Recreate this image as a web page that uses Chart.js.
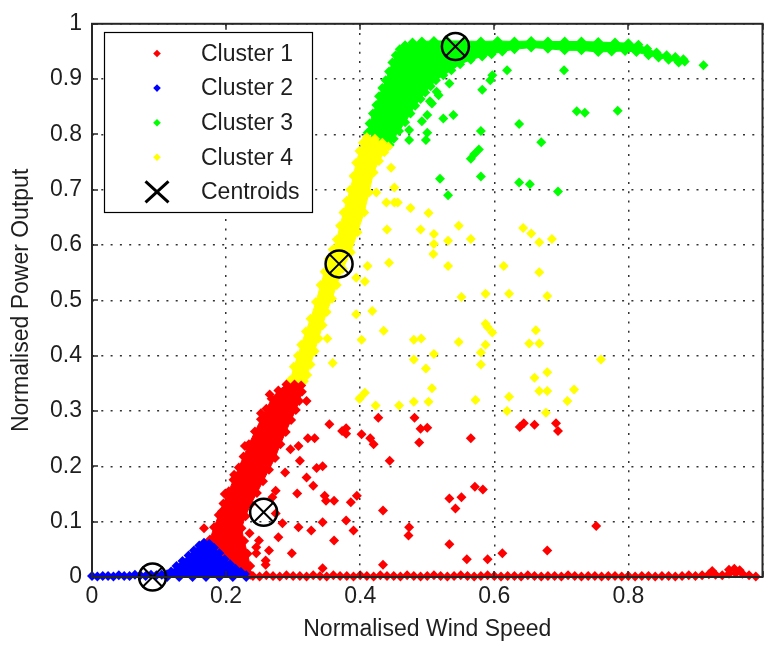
<!DOCTYPE html>
<html>
<head>
<meta charset="utf-8">
<title>Clusters</title>
<script src="https://cdn.jsdelivr.net/npm/chart.js@4.4.1/dist/chart.umd.min.js"></script>
<style>
  html, body { margin: 0; padding: 0; background: #fff; overflow: hidden; }
  canvas { display: block; }
</style>
</head>
<body>
<canvas id="chart" width="779" height="646"></canvas>
<script>
const legendLabels = ['Cluster 1', 'Cluster 2', 'Cluster 3', 'Cluster 4', 'Centroids'];
const clusterColors = ['#ff0000', '#0000ff', '#00ff00', '#ffff00'];

const xTicks = [0, 0.2, 0.4, 0.6, 0.8, 1];
const yTicks = [0, 0.1, 0.2, 0.3, 0.4, 0.5, 0.6, 0.7, 0.8, 0.9, 1];

// dense parts of each cluster, read as outlines [x, y]
const cluster2Shape = [
    [0.112, 0.000], [0.118, 0.010], [0.126, 0.020], [0.135, 0.029], [0.144, 0.039], [0.152, 0.048],
    [0.160, 0.057], [0.167, 0.062], [0.175, 0.060], [0.182, 0.053], [0.190, 0.043], [0.198, 0.032],
    [0.206, 0.023], [0.214, 0.015], [0.222, 0.009], [0.230, 0.003], [0.230, 0.000], [0.210, 0.000],
    [0.190, 0.000], [0.170, 0.000], [0.150, 0.000], [0.130, 0.000]
];
const cluster2Line = [
    [0.000, 0.002], [0.008, 0.001], [0.016, 0.002], [0.024, 0.002], [0.032, 0.001], [0.040, 0.003],
    [0.048, 0.002], [0.056, 0.002], [0.064, 0.004], [0.072, 0.003], [0.080, 0.002], [0.088, 0.004],
    [0.096, 0.003], [0.104, 0.004], [0.112, 0.005]
];

const cluster1Shape = [
    [0.176, 0.068], [0.182, 0.090], [0.189, 0.112], [0.196, 0.133], [0.204, 0.155], [0.211, 0.176],
    [0.219, 0.198], [0.226, 0.218], [0.234, 0.240], [0.243, 0.263], [0.252, 0.285], [0.260, 0.304],
    [0.268, 0.322], [0.278, 0.337], [0.290, 0.348], [0.302, 0.348], [0.312, 0.346], [0.313, 0.335],
    [0.309, 0.318], [0.304, 0.302], [0.297, 0.284], [0.289, 0.262], [0.281, 0.240], [0.273, 0.215],
    [0.264, 0.194], [0.255, 0.173], [0.246, 0.152], [0.237, 0.132], [0.229, 0.110], [0.223, 0.088],
    [0.227, 0.065], [0.232, 0.042], [0.236, 0.020], [0.236, 0.004], [0.231, 0.006], [0.223, 0.012],
    [0.215, 0.019], [0.207, 0.027], [0.199, 0.037], [0.191, 0.048], [0.183, 0.058]
];
const cluster1Points = [
    [0.167, 0.088], [0.194, 0.119], [0.198, 0.150], [0.212, 0.185], [0.228, 0.237], [0.252, 0.296],
    [0.265, 0.330], [0.235, 0.079], [0.245, 0.043], [0.259, 0.030], [0.249, 0.066], [0.264, 0.048],
    [0.259, 0.022], [0.245, 0.054], [0.269, 0.144], [0.274, 0.115], [0.278, 0.072], [0.284, 0.097],
    [0.298, 0.043], [0.306, 0.151], [0.308, 0.090], [0.310, 0.210], [0.320, 0.180], [0.330, 0.165],
    [0.327, 0.084], [0.344, 0.099], [0.344, 0.016], [0.335, 0.197], [0.344, 0.200], [0.322, 0.251],
    [0.332, 0.251], [0.296, 0.231], [0.308, 0.237], [0.320, 0.318], [0.354, 0.276], [0.361, 0.066],
    [0.361, 0.138], [0.379, 0.269], [0.379, 0.259], [0.379, 0.102], [0.390, 0.084], [0.386, 0.135],
    [0.395, 0.147], [0.402, 0.258], [0.415, 0.251], [0.420, 0.240], [0.427, 0.288], [0.444, 0.210],
    [0.434, 0.120], [0.434, 0.022], [0.373, 0.264], [0.288, 0.189], [0.274, 0.156], [0.347, 0.147],
    [0.349, 0.138], [0.481, 0.288], [0.490, 0.268], [0.500, 0.270], [0.488, 0.243], [0.565, 0.251],
    [0.473, 0.090], [0.472, 0.075], [0.533, 0.142], [0.551, 0.144], [0.542, 0.124], [0.571, 0.163],
    [0.583, 0.158], [0.533, 0.059], [0.559, 0.032], [0.590, 0.032], [0.612, 0.043], [0.638, 0.271],
    [0.644, 0.278], [0.660, 0.275], [0.692, 0.278], [0.695, 0.264], [0.752, 0.092], [0.679, 0.048]
];
const cluster1Base = [
    [0.24, 0.002], [0.25, 0.001], [0.26, 0.003], [0.27, 0.002], [0.28, 0.001], [0.29, 0.003],
    [0.30, 0.002], [0.31, 0.002], [0.32, 0.001], [0.33, 0.003], [0.34, 0.002], [0.35, 0.001],
    [0.36, 0.003], [0.37, 0.002], [0.38, 0.002], [0.39, 0.001], [0.40, 0.003], [0.41, 0.002],
    [0.42, 0.001], [0.43, 0.003], [0.44, 0.002], [0.45, 0.002], [0.46, 0.001], [0.47, 0.003],
    [0.48, 0.002], [0.49, 0.001], [0.50, 0.002], [0.51, 0.003], [0.52, 0.002], [0.53, 0.001],
    [0.54, 0.002], [0.55, 0.003], [0.56, 0.002], [0.57, 0.001], [0.58, 0.002], [0.59, 0.003],
    [0.60, 0.002], [0.61, 0.001], [0.62, 0.002], [0.63, 0.002], [0.64, 0.001], [0.65, 0.003],
    [0.66, 0.002], [0.67, 0.001], [0.68, 0.002], [0.69, 0.002], [0.70, 0.001], [0.71, 0.003],
    [0.72, 0.002], [0.73, 0.001], [0.74, 0.002], [0.75, 0.002], [0.76, 0.001], [0.77, 0.002],
    [0.78, 0.002], [0.79, 0.001], [0.80, 0.002], [0.81, 0.001], [0.82, 0.002], [0.83, 0.002],
    [0.84, 0.001], [0.85, 0.002], [0.86, 0.002], [0.87, 0.001], [0.88, 0.002], [0.89, 0.003],
    [0.90, 0.002], [0.91, 0.003], [0.92, 0.005], [0.93, 0.004], [0.94, 0.003], [0.95, 0.006],
    [0.96, 0.007], [0.97, 0.006], [0.98, 0.003], [0.99, 0.001], [0.925, 0.011], [0.950, 0.013],
    [0.958, 0.015], [0.966, 0.012]
];

const cluster4Shape = [
    [0.296, 0.356], [0.301, 0.380], [0.307, 0.400], [0.312, 0.420], [0.319, 0.444], [0.326, 0.467],
    [0.334, 0.497], [0.341, 0.528], [0.347, 0.552], [0.353, 0.575], [0.359, 0.592], [0.365, 0.610],
    [0.370, 0.635], [0.375, 0.659], [0.380, 0.680], [0.385, 0.700], [0.390, 0.725], [0.394, 0.749],
    [0.399, 0.770], [0.404, 0.785], [0.410, 0.795], [0.422, 0.792], [0.433, 0.785], [0.442, 0.778],
    [0.436, 0.768], [0.428, 0.752], [0.420, 0.731], [0.413, 0.695], [0.406, 0.659], [0.396, 0.623],
    [0.386, 0.587], [0.374, 0.557], [0.365, 0.528], [0.358, 0.503], [0.350, 0.479], [0.344, 0.455],
    [0.338, 0.431], [0.332, 0.408], [0.326, 0.384], [0.321, 0.365], [0.316, 0.354], [0.305, 0.353]
];
const cluster4Points = [
    [0.446, 0.740], [0.451, 0.704], [0.424, 0.695], [0.439, 0.677], [0.451, 0.677], [0.456, 0.677],
    [0.475, 0.667], [0.502, 0.658], [0.440, 0.628], [0.490, 0.628], [0.510, 0.620], [0.531, 0.608],
    [0.510, 0.602], [0.443, 0.568], [0.411, 0.562], [0.394, 0.541], [0.407, 0.534], [0.531, 0.562],
    [0.418, 0.481], [0.394, 0.475], [0.435, 0.445], [0.402, 0.429], [0.351, 0.431], [0.359, 0.387],
    [0.480, 0.429], [0.491, 0.431], [0.480, 0.393], [0.498, 0.377], [0.510, 0.403], [0.507, 0.341],
    [0.400, 0.324], [0.547, 0.635], [0.565, 0.611], [0.643, 0.631], [0.655, 0.621], [0.667, 0.605],
    [0.686, 0.611], [0.509, 0.584], [0.614, 0.562], [0.667, 0.551], [0.587, 0.512], [0.551, 0.506],
    [0.622, 0.512], [0.679, 0.508], [0.587, 0.458], [0.590, 0.452], [0.597, 0.442], [0.547, 0.425],
    [0.587, 0.420], [0.662, 0.446], [0.652, 0.422], [0.667, 0.422], [0.580, 0.406], [0.580, 0.384],
    [0.660, 0.360], [0.679, 0.370], [0.667, 0.336], [0.679, 0.336], [0.399, 0.322], [0.407, 0.333],
    [0.423, 0.310], [0.458, 0.310], [0.480, 0.317], [0.502, 0.317], [0.572, 0.320], [0.622, 0.326],
    [0.619, 0.300], [0.677, 0.297], [0.709, 0.318], [0.759, 0.393], [0.719, 0.339]
];

const cluster3Shape = [
    [0.411, 0.803], [0.414, 0.820], [0.419, 0.838], [0.424, 0.853], [0.428, 0.869], [0.433, 0.884],
    [0.438, 0.898], [0.443, 0.914], [0.448, 0.930], [0.453, 0.943], [0.459, 0.954], [0.467, 0.961],
    [0.478, 0.966], [0.492, 0.968], [0.510, 0.969], [0.530, 0.969], [0.555, 0.969], [0.580, 0.968],
    [0.605, 0.969], [0.630, 0.968], [0.655, 0.969], [0.680, 0.968], [0.705, 0.968], [0.730, 0.968],
    [0.755, 0.967], [0.780, 0.966], [0.800, 0.965], [0.815, 0.962], [0.828, 0.955], [0.842, 0.948],
    [0.857, 0.943], [0.870, 0.940], [0.882, 0.936], [0.884, 0.932], [0.875, 0.930], [0.860, 0.935],
    [0.845, 0.939], [0.830, 0.943], [0.812, 0.949], [0.795, 0.951], [0.775, 0.950], [0.755, 0.949],
    [0.730, 0.952], [0.705, 0.952], [0.680, 0.955], [0.655, 0.957], [0.630, 0.954], [0.612, 0.950],
    [0.596, 0.945], [0.582, 0.941], [0.565, 0.935], [0.549, 0.927], [0.536, 0.916], [0.524, 0.907],
    [0.513, 0.898], [0.505, 0.887], [0.497, 0.876], [0.490, 0.864], [0.482, 0.852], [0.475, 0.838],
    [0.467, 0.822], [0.458, 0.806], [0.450, 0.792], [0.444, 0.781], [0.433, 0.788], [0.422, 0.795]
];
const cluster3Points = [
    [0.912, 0.925], [0.704, 0.916], [0.619, 0.916], [0.597, 0.907], [0.594, 0.898], [0.582, 0.881],
    [0.533, 0.892], [0.514, 0.877], [0.517, 0.871], [0.504, 0.860], [0.507, 0.856], [0.500, 0.835],
    [0.539, 0.835], [0.524, 0.829], [0.492, 0.824], [0.500, 0.803], [0.498, 0.790], [0.473, 0.808],
    [0.473, 0.790], [0.580, 0.806], [0.577, 0.773], [0.570, 0.764], [0.565, 0.756], [0.519, 0.720],
    [0.531, 0.690], [0.580, 0.724], [0.637, 0.819], [0.670, 0.786], [0.637, 0.713], [0.653, 0.710],
    [0.695, 0.697], [0.723, 0.842], [0.735, 0.839], [0.784, 0.843]
];

const centroidX = [0.0903, 0.256, 0.3685, 0.542];
const centroidY = [0.0, 0.117, 0.566, 0.959];

const pts = arr => arr.map(([x, y]) => ({x, y}));
const centroids = centroidX.map((x, i) => ({x, y: centroidY[i]}));

function cloud(data, color, order) {
    return {
        data: pts(data),
        backgroundColor: color,
        borderColor: color,
        pointStyle: 'rectRot',
        pointRadius: 5,
        pointBorderWidth: 0,
        showLine: false,
        clip: false,
        order: order,
    };
}

function shape(data, color, order) {
    return {
        data: pts(data),
        backgroundColor: color,
        borderColor: color,
        borderWidth: 1,
        pointStyle: 'rectRot',
        pointRadius: 5,
        pointBorderWidth: 0,
        pointBackgroundColor: color,
        showLine: true,
        fill: 'shape',
        tension: 0,
        clip: false,
        order: order,
    };
}

const fontFamily = "'Liberation Sans', Arial, sans-serif";
const textColor = '#1e1e1e';

// box, inward tick marks, legend
const matlabFrame = {
    id: 'matlabFrame',
    afterDatasetsDraw(chart) {
        const {ctx, chartArea: a, scales: {x, y}} = chart;
        ctx.save();
        ctx.strokeStyle = '#262626';
        ctx.lineWidth = 1.5;
        ctx.beginPath();
        xTicks.forEach(v => {
            const px = Math.round(x.getPixelForValue(v));
            ctx.moveTo(px, a.bottom); ctx.lineTo(px, a.bottom - 6);
            ctx.moveTo(px, a.top); ctx.lineTo(px, a.top + 6);
        });
        yTicks.forEach(v => {
            const py = Math.round(y.getPixelForValue(v));
            ctx.moveTo(a.left, py); ctx.lineTo(a.left + 6, py);
        });
        ctx.stroke();
        ctx.lineWidth = 2;
        ctx.strokeRect(a.left, a.top, a.right - a.left, a.bottom - a.top);
        ctx.restore();
    },
    afterDraw(chart) {
        const ctx = chart.ctx;
        ctx.save();
        ctx.fillStyle = '#fff';
        ctx.fillRect(104.5, 32.5, 208, 180);
        ctx.strokeStyle = '#000';
        ctx.lineWidth = 1.2;
        ctx.strokeRect(104.5, 32.5, 208, 180);
        ctx.font = '23px ' + fontFamily;
        ctx.textBaseline = 'middle';
        legendLabels.forEach((label, i) => {
            const ly = 53.5 + i * 34.6;
            if (i < 4) {
                ctx.fillStyle = clusterColors[i];
                ctx.beginPath();
                ctx.moveTo(157, ly - 3.8); ctx.lineTo(160.8, ly);
                ctx.lineTo(157, ly + 3.8); ctx.lineTo(153.2, ly);
                ctx.closePath();
                ctx.fill();
            } else {
                ctx.strokeStyle = '#000';
                ctx.lineWidth = 3;
                ctx.beginPath();
                ctx.moveTo(145.5, ly - 10.5); ctx.lineTo(168.5, ly + 10.5);
                ctx.moveTo(168.5, ly - 10.5); ctx.lineTo(145.5, ly + 10.5);
                ctx.stroke();
            }
            ctx.fillStyle = textColor;
            ctx.fillText(label, 201, ly + 1);
        });
        ctx.restore();
    }
};

const config = {
    type: 'scatter',
    data: {
        datasets: [
            {
                data: centroids,
                pointStyle: 'circle',
                pointRadius: 13.5,
                pointBorderWidth: 2.5,
                pointBorderColor: '#000',
                pointBackgroundColor: 'rgba(0,0,0,0)',
                clip: false,
                order: 0,
            },
            {
                data: centroids,
                pointStyle: 'crossRot',
                pointRadius: 14.5,
                pointBorderWidth: 2,
                pointBorderColor: '#000',
                clip: false,
                order: 0,
            },
            cloud(cluster4Points, clusterColors[3], 2),
            cloud(cluster3Points, clusterColors[2], 2),
            cloud(cluster1Points, clusterColors[0], 2),
            cloud(cluster1Base, clusterColors[0], 3),
            cloud(cluster2Line, clusterColors[1], 4),
            shape(cluster2Shape, clusterColors[1], 4),
            shape(cluster1Shape, clusterColors[0], 5),
            shape(cluster4Shape, clusterColors[3], 5),
            shape(cluster3Shape, clusterColors[2], 5),
        ]
    },
    options: {
        responsive: false,
        animation: false,
        events: [],
        devicePixelRatio: 1,
        layout: {
            padding: {top: 20, right: 0, bottom: 0, left: 0},
        },
        scales: {
            x: {
                type: 'linear',
                min: 0,
                max: 1,
                afterFit: s => { s.height = 69; },
                afterBuildTicks: s => { s.ticks = xTicks.map(v => ({value: v})); },
                ticks: {
                    padding: 6,
                    color: textColor,
                    font: {size: 23, family: fontFamily},
                    maxRotation: 0,
                    autoSkip: false,
                    callback: v => (v === 1 ? '' : String(+v.toFixed(1))),
                },
                grid: {
                    drawTicks: false,
                    color: '#333',
                    lineWidth: 1.5,
                },
                border: {display: false, dash: [2, 7.3]},
                title: {
                    display: true,
                    text: 'Normalised Wind Speed',
                    color: textColor,
                    font: {size: 23, family: fontFamily},
                    padding: {top: 0, bottom: 3},
                },
            },
            y: {
                type: 'linear',
                min: 0,
                max: 1,
                afterFit: s => { s.width = 92; },
                afterBuildTicks: s => { s.ticks = yTicks.map(v => ({value: v})); },
                ticks: {
                    padding: 10,
                    color: textColor,
                    font: {size: 23, family: fontFamily},
                    callback: v => String(+v.toFixed(1)),
                },
                grid: {
                    drawTicks: false,
                    color: '#333',
                    lineWidth: 1.5,
                },
                border: {display: false, dash: [2, 7.3]},
                title: {
                    display: true,
                    text: 'Normalised Power Output',
                    color: textColor,
                    font: {size: 23, family: fontFamily},
                    padding: {top: 8, bottom: 0},
                },
            },
        },
        plugins: {
            legend: {display: false},
            tooltip: {enabled: false},
        },
    },
    plugins: [matlabFrame],
};

const chart = new Chart(document.getElementById('chart').getContext('2d'), config);
</script>
</body>
</html>
